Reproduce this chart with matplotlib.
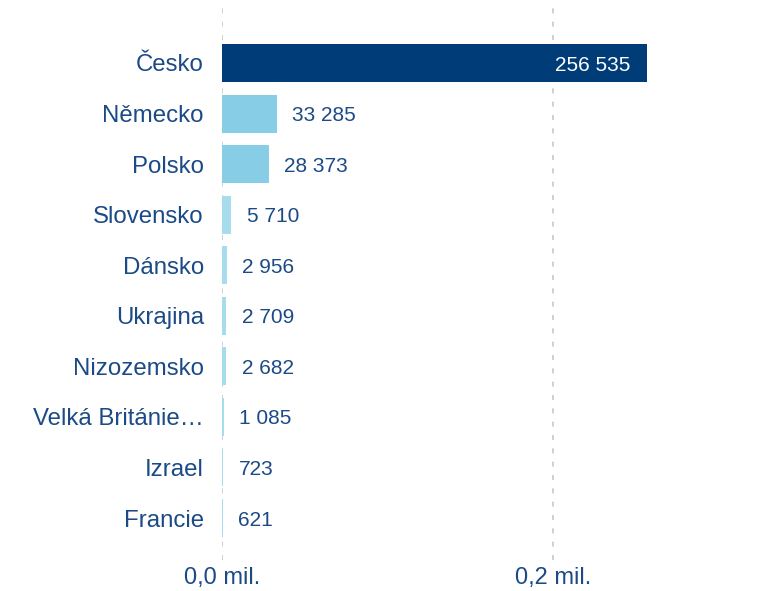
import matplotlib.pyplot as plt
from matplotlib.ticker import FuncFormatter

# data
countries = ['Česko', 'Německo', 'Polsko', 'Slovensko', 'Dánsko', 'Ukrajina',
             'Nizozemsko', 'Velká Británie…', 'Izrael', 'Francie']
values = [256535, 33285, 28373, 5710, 2956, 2709, 2682, 1085, 723, 621]
bar_colors = ['#003c78', '#87cde6', '#87cde6', '#a6dcec', '#a6dcec', '#a6dcec',
              '#a6dcec', '#a6dcec', '#a6dcec', '#a6dcec']
xticks = [0.0, 0.2]

text_col = '#1b4a86'
plt.rcParams['font.family'] = ['Liberation Sans', 'DejaVu Sans']

fig = plt.figure(figsize=(7.66, 5.91), dpi=100)
ax = fig.add_axes([222/766, 31/591, (718.5-222)/766, 560/591])

vals_m = [v / 1e6 for v in values]
ypos = list(range(len(countries)))
ax.barh(ypos, vals_m, height=0.75, color=bar_colors, zorder=2)

def fmt_num(v):
    return '{:,}'.format(v).replace(',', ' ')

for i, (v, vm) in enumerate(zip(values, vals_m)):
    if i == 0:
        ax.annotate(fmt_num(v), (vm, i), xytext=(-12, -1.5), textcoords='offset points',
                    ha='right', va='center', color='white', fontsize=15)
    else:
        ax.annotate(fmt_num(v), (vm, i), xytext=(11, -1.5), textcoords='offset points',
                    ha='left', va='center', color=text_col, fontsize=15)

ax.set_xlim(0, 0.3)
ax.set_ylim(9 + 0.83, -1.246)
ax.set_xticks(xticks)
ax.xaxis.set_major_formatter(FuncFormatter(lambda x, p: '{:.1f} mil.'.format(x).replace('.', ',', 1)))
ax.set_yticks(ypos)
ax.set_yticklabels(countries)
ax.tick_params(axis='both', length=0, colors=text_col)
ax.tick_params(axis='y', labelsize=17.3, pad=13)
ax.tick_params(axis='x', labelsize=17, pad=5)
for lab in ax.get_xticklabels():
    lab.set_color(text_col)

ax.grid(axis='x', color='#c8c8c8', linestyle=(0, (3, 5)), linewidth=1.2, zorder=0)
for s in ax.spines.values():
    s.set_visible(False)

fig.savefig('out.png', dpi=100)
